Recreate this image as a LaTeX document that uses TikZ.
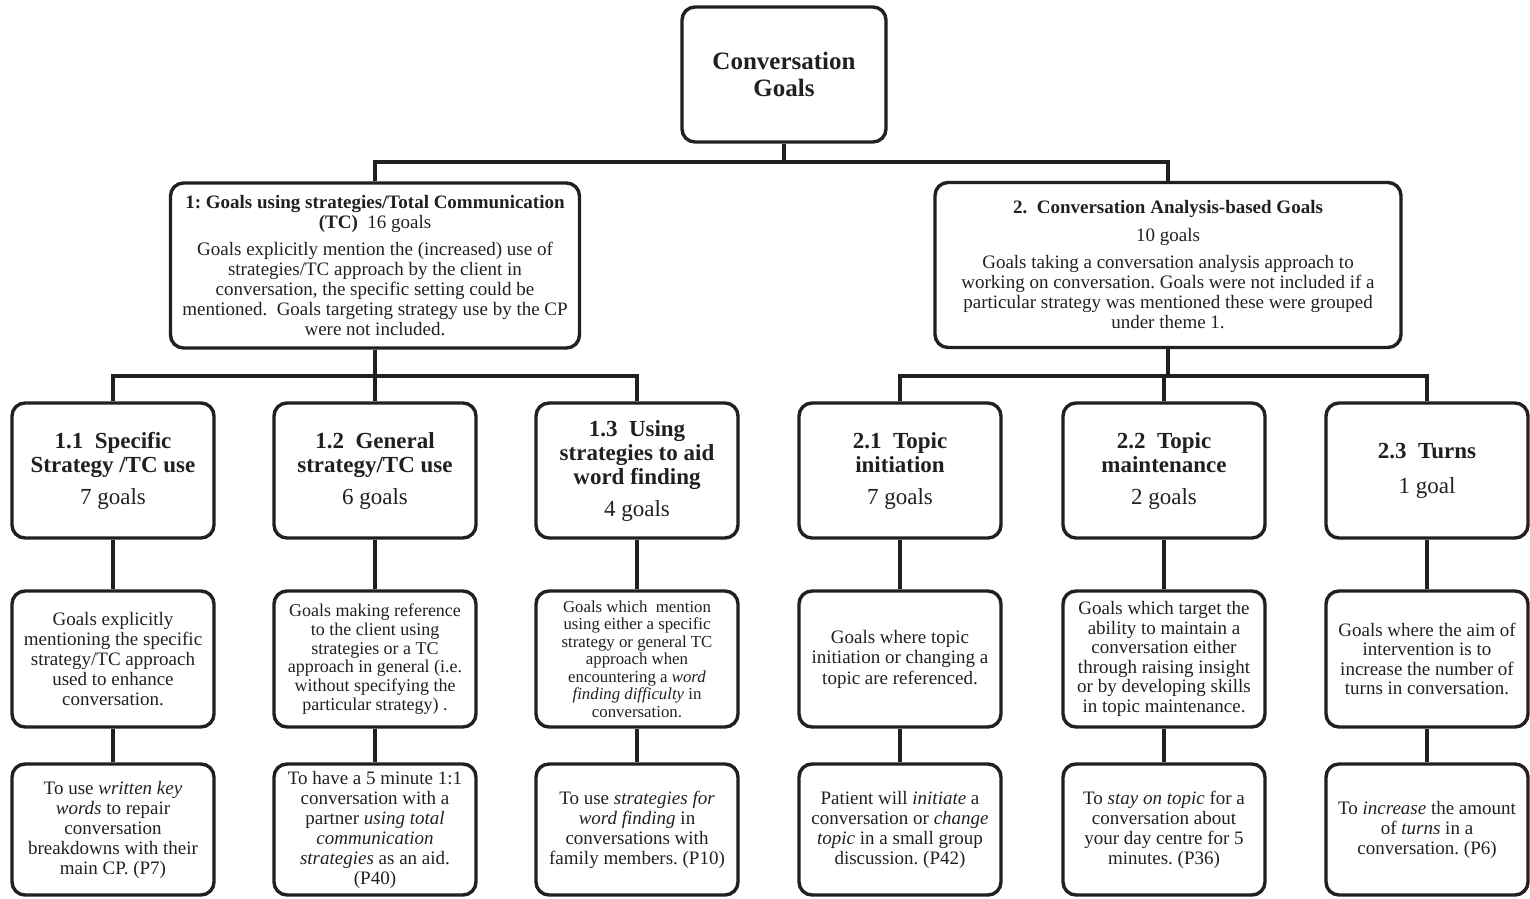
\documentclass[tikz,border=0pt]{standalone}
\usepackage{fontspec}
\setmainfont{Liberation Serif}
\frenchspacing
\definecolor{ink}{HTML}{231F20}
\begin{document}
\begin{tikzpicture}[x=1pt,y=-1pt,
  box/.style={draw=ink, text=ink, line width=3.4pt, rounded corners=13pt,
    align=center, inner sep=0pt},
  rootbox/.style={box, minimum width=204pt, minimum height=135pt,
    font=\fontsize{25}{27}\selectfont\bfseries},
  themebox/.style={box, minimum height=165pt,
    font=\fontsize{19}{20}\selectfont},
  subbox/.style={box, minimum width=202pt, minimum height=135pt,
    font=\fontsize{23}{24}\selectfont},
  descbox/.style={box, minimum width=202pt, minimum height=136pt,
    font=\fontsize{19}{20}\selectfont},
  egbox/.style={box, minimum width=202pt, minimum height=131pt,
    font=\fontsize{19}{20}\selectfont},
  link/.style={draw=ink, line width=3.2pt}]
\useasboundingbox (0,0) rectangle (1530,898);

% root
\node[rootbox] (root) at (784,74.5) {Conversation\\Goals};

% themes
\node[themebox, minimum width=409pt] (g1) at (375,265.5)
  {\textbf{1: Goals using strategies/Total Communication}\\
   \textbf{(TC)}\ \ 16 goals\\[7pt]
   Goals explicitly mention the (increased) use of\\
   strategies/TC approach by the client in\\
   conversation, the specific setting could be\\
   mentioned.\ \ Goals targeting strategy use by the CP\\
   were not included.};
\node[themebox, minimum width=466pt] (g2) at (1168,265)
  {\textbf{2.\ \ Conversation Analysis-based Goals}\\[8pt]
   10 goals\\[7pt]
   Goals taking a conversation analysis approach to\\
   working on conversation. Goals were not included if a\\
   particular strategy was mentioned these were grouped\\
   under theme 1.};

% sub-themes
\node[subbox] (t11) at (113,470.5)
  {\textbf{1.1\ \ Specific}\\\textbf{Strategy /TC use}\\[8pt]7 goals};
\node[subbox] (t12) at (375,470.5)
  {\textbf{1.2\ \ General}\\\textbf{strategy/TC use}\\[8pt]6 goals};
\node[subbox] (t13) at (637,470.5)
  {\textbf{1.3\ \ Using}\\\textbf{strategies to aid}\\\textbf{word finding}\\[8pt]4 goals};
\node[subbox] (t21) at (900,470.5)
  {\textbf{2.1\ \ Topic}\\\textbf{initiation}\\[8pt]7 goals};
\node[subbox] (t22) at (1164,470.5)
  {\textbf{2.2\ \ Topic}\\\textbf{maintenance}\\[8pt]2 goals};
\node[subbox] (t23) at (1427,470.5)
  {\textbf{2.3\ \ Turns}\\[11pt]1 goal};

% descriptions
\node[descbox] (d11) at (113,659)
  {Goals explicitly\\mentioning the specific\\strategy/TC approach\\used to enhance\\conversation.};
\node[descbox, font=\fontsize{18}{18.7}\selectfont] (d12) at (375,659)
  {Goals making reference\\to the client using\\strategies or a TC\\approach in general (i.e.\\without specifying the\\particular strategy) .};
\node[descbox, font=\fontsize{16.8}{17.5}\selectfont] (d13) at (637,659)
  {Goals which\ \ mention\\using either a specific\\strategy or general TC\\approach when\\encountering a \textit{word}\\\textit{finding difficulty} in\\conversation.};
\node[descbox, font=\fontsize{19}{20.5}\selectfont] (d21) at (900,659)
  {Goals where topic\\initiation or changing a\\topic are referenced.};
\node[descbox, font=\fontsize{19}{19.6}\selectfont] (d22) at (1164,659)
  {Goals which target the\\ability to maintain a\\conversation either\\through raising insight\\or by developing skills\\in topic maintenance.};
\node[descbox, font=\fontsize{19}{19.6}\selectfont] (d23) at (1427,659)
  {Goals where the aim of\\intervention is to\\increase the number of\\turns in conversation.};

% example goals
\node[egbox] (e11) at (113,829.5)
  {To use \textit{written key}\\\textit{words} to repair\\conversation\\breakdowns with their\\main CP. (P7)};
\node[egbox] (e12) at (375,829.5)
  {To have a 5 minute 1:1\\conversation with a\\partner \textit{using total}\\\textit{communication}\\\textit{strategies} as an aid.\\(P40)};
\node[egbox] (e13) at (637,829.5)
  {To use \textit{strategies for}\\\textit{word finding} in\\conversations with\\family members. (P10)};
\node[egbox] (e21) at (900,829.5)
  {Patient will \textit{initiate} a\\conversation or \textit{change}\\\textit{topic} in a small group\\discussion. (P42)};
\node[egbox] (e22) at (1164,829.5)
  {To \textit{stay on topic} for a\\conversation about\\your day centre for 5\\minutes. (P36)};
\node[egbox] (e23) at (1427,829.5)
  {To \textit{increase} the amount\\of \textit{turns} in a\\conversation. (P6)};

% junction levels
\coordinate (j0) at (784,162);
\coordinate (j1) at (375,376);
\coordinate (j2) at (1168,376);

% connectors
\draw[link] (root.south) -- (root.south |- j0);
\draw[link] (g1.north) -- (g1.north |- j0) -- (g2.north |- j0) -- (g2.north);

\draw[link] (g1.south) -- (t12.north);
\draw[link] (t11.north) -- (t11.north |- j1) -- (t13.north |- j1) -- (t13.north);

\draw[link] (g2.south) -- (g2.south |- j2);
\draw[link] (t21.north) -- (t21.north |- j2) -- (t23.north |- j2) -- (t23.north);
\draw[link] (t22.north) -- (t22.north |- j2);

\foreach \c in {11,12,13,21,22,23}{
  \draw[link] (t\c.south) -- (d\c.north);
  \draw[link] (d\c.south) -- (e\c.north);
}
\end{tikzpicture}
\end{document}
